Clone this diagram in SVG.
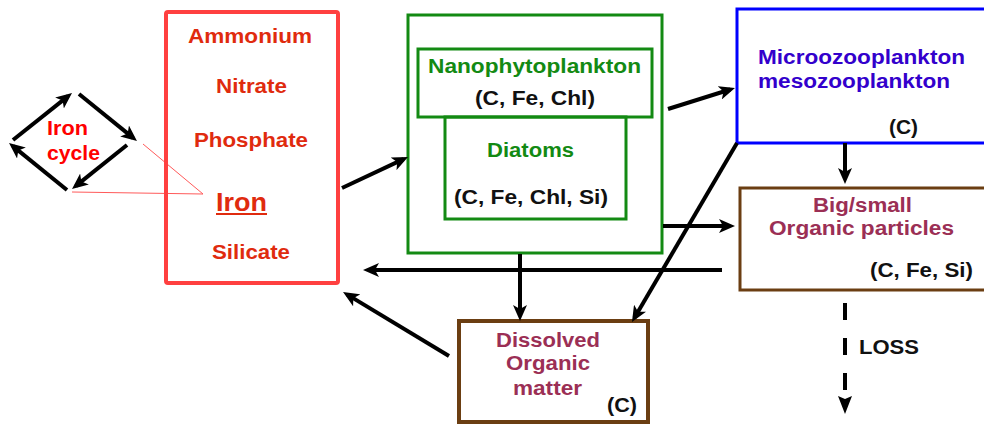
<svg xmlns="http://www.w3.org/2000/svg" width="984" height="425" viewBox="0 0 984 425">
<style>
text{font-family:"Liberation Sans",Arial,sans-serif;font-weight:bold;font-size:20px;}
.nut{fill:#e02b0e;text-anchor:middle;}
.grn{fill:#138a13;text-anchor:middle;}
.blk{fill:#111;}
.blu{fill:#3300cc;}
.mar{fill:#9b2f55;text-anchor:middle;}
.conn{stroke:#000;stroke-width:4;fill:none;}
</style>
<defs>
<marker id="ah" markerUnits="userSpaceOnUse" viewBox="0 0 16 14" markerWidth="16" markerHeight="14" refX="11" refY="7" orient="auto">
<path d="M0,0 L16,7 L0,14 L4,7 z" fill="#000"/>
</marker>
</defs>
<rect width="984" height="425" fill="#fff"/>

<g id="iron-cycle">
<line x1="143" y1="144" x2="203" y2="194" stroke="#ff5a5a" stroke-width="1"/>
<line x1="72" y1="192" x2="203" y2="194" stroke="#ff5a5a" stroke-width="1"/>
<line class="conn" x1="13" y1="140" x2="68.1" y2="96.1" marker-end="url(#ah)"/>
<line class="conn" x1="79" y1="94" x2="133.1" y2="137.9" marker-end="url(#ah)"/>
<line class="conn" x1="127" y1="145" x2="75.9" y2="185.9" marker-end="url(#ah)"/>
<line class="conn" x1="67" y1="190" x2="12.9" y2="146.1" marker-end="url(#ah)"/>
<text x="67.5" y="135" fill="#ff0000" text-anchor="middle" textLength="41" lengthAdjust="spacingAndGlyphs">Iron</text>
<text x="73.5" y="160" fill="#ff0000" text-anchor="middle" textLength="53" lengthAdjust="spacingAndGlyphs">cycle</text>
</g>

<g id="nutrients">
<rect x="166" y="12" width="172" height="271" rx="2" fill="none" stroke="#ff4040" stroke-width="4"/>
<text class="nut" x="250" y="43" textLength="124" lengthAdjust="spacingAndGlyphs">Ammonium</text>
<text class="nut" x="251.5" y="93" textLength="71" lengthAdjust="spacingAndGlyphs">Nitrate</text>
<text class="nut" x="251" y="147" textLength="114" lengthAdjust="spacingAndGlyphs">Phosphate</text>
<text class="nut" x="241.5" y="211" style="font-size:26px" textLength="51" lengthAdjust="spacingAndGlyphs">Iron</text>
<line x1="216" y1="214" x2="267" y2="214" stroke="#e02b0e" stroke-width="2"/>
<text class="nut" x="251" y="259" textLength="78" lengthAdjust="spacingAndGlyphs">Silicate</text>
</g>

<g id="phytoplankton">
<rect x="408" y="15" width="254" height="238" fill="none" stroke="#138a13" stroke-width="3"/>
<g id="nanophytoplankton">
<rect x="418" y="49" width="234" height="68" fill="none" stroke="#138a13" stroke-width="3"/>
<text class="grn" x="534.5" y="73" textLength="213" lengthAdjust="spacingAndGlyphs">Nanophytoplankton</text>
<text class="blk" x="535" y="105" text-anchor="middle" textLength="120" lengthAdjust="spacingAndGlyphs">(C, Fe, Chl)</text>
</g>
<g id="diatoms">
<rect x="445" y="117" width="181" height="102" fill="none" stroke="#138a13" stroke-width="3"/>
<text class="grn" x="530.5" y="157" textLength="87" lengthAdjust="spacingAndGlyphs">Diatoms</text>
<text class="blk" x="531" y="204" text-anchor="middle" textLength="154" lengthAdjust="spacingAndGlyphs">(C, Fe, Chl, Si)</text>
</g>
</g>

<g id="zooplankton">
<rect x="737" y="9" width="260" height="134" fill="none" stroke="#0000ff" stroke-width="3"/>
<text class="blu" x="758" y="64" textLength="207" lengthAdjust="spacingAndGlyphs">Microozooplankton</text>
<text class="blu" x="758" y="88" textLength="192" lengthAdjust="spacingAndGlyphs">mesozooplankton</text>
<text class="blk" x="889" y="134" textLength="29" lengthAdjust="spacingAndGlyphs">(C)</text>
</g>

<g id="particles">
<rect x="740" y="188" width="260" height="102" fill="none" stroke="#6b3e12" stroke-width="3"/>
<text class="mar" x="862.5" y="212" textLength="99" lengthAdjust="spacingAndGlyphs">Big/small</text>
<text class="mar" x="861.5" y="235" textLength="185" lengthAdjust="spacingAndGlyphs">Organic particles</text>
<text class="blk" x="870" y="277" textLength="103" lengthAdjust="spacingAndGlyphs">(C, Fe, Si)</text>
</g>

<g id="dom">
<rect x="459" y="321" width="189" height="101" fill="none" stroke="#6b3e12" stroke-width="4"/>
<text class="mar" x="548" y="347" textLength="104" lengthAdjust="spacingAndGlyphs">Dissolved</text>
<text class="mar" x="548" y="370" textLength="84" lengthAdjust="spacingAndGlyphs">Organic</text>
<text class="mar" x="547.5" y="395" textLength="69" lengthAdjust="spacingAndGlyphs">matter</text>
<text class="blk" x="607" y="412" textLength="30" lengthAdjust="spacingAndGlyphs">(C)</text>
</g>

<g id="connectors">
<line class="conn" x1="342" y1="188" x2="403.5" y2="159.1" marker-end="url(#ah)"/>
<line class="conn" x1="668" y1="109" x2="730.2" y2="89.5" marker-end="url(#ah)"/>
<line class="conn" x1="845" y1="143" x2="845" y2="179" marker-end="url(#ah)"/>
<line class="conn" x1="663" y1="226" x2="730" y2="226" marker-end="url(#ah)"/>
<line class="conn" x1="722" y1="270" x2="368" y2="270" marker-end="url(#ah)"/>
<line class="conn" x1="737" y1="143" x2="634.5" y2="317.7" marker-end="url(#ah)"/>
<line class="conn" x1="520" y1="254" x2="520" y2="316" marker-end="url(#ah)"/>
<line class="conn" x1="449" y1="356" x2="347.3" y2="294.6" marker-end="url(#ah)"/>
<line class="conn" x1="845" y1="303" x2="845" y2="392" stroke-dasharray="17 18"/>
<path d="M838,396 L845,399 L852,396 L845,414 z" fill="#000"/>
<text x="859" y="354" fill="#111" textLength="60" lengthAdjust="spacingAndGlyphs">LOSS</text>
</g>
</svg>
